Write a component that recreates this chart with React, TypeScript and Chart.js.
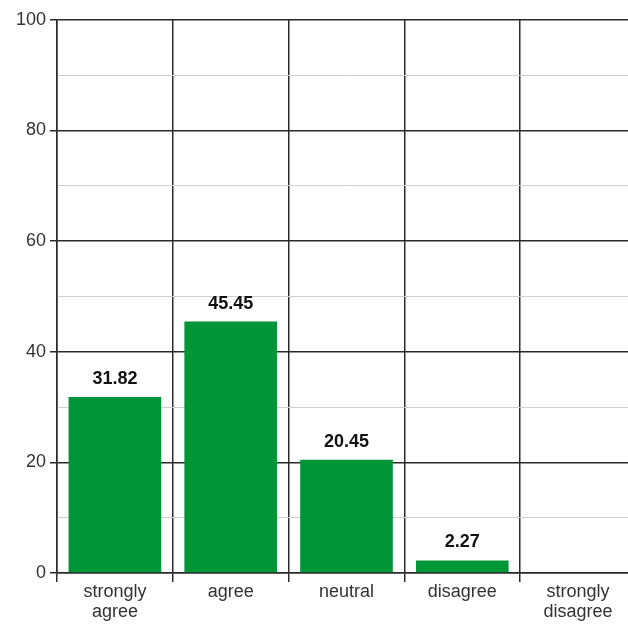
import React, { useEffect, useRef } from "react";
import { Chart, registerables } from "chart.js";

Chart.register(...registerables);

const categories: (string | string[])[] = [
  ["strongly", "agree"],
  "agree",
  "neutral",
  "disagree",
  ["strongly", "disagree"],
];
const percentages: number[] = [31.82, 45.45, 20.45, 2.27, 0];
const yMajorTicks: number[] = [0, 20, 40, 60, 80, 100];

const BAR_GREEN = "#009637";
const DARK_LINE = "#2a2a2a";
const LIGHT_LINE = "#d0d0d0";
const FONT = "'Liberation Sans', Arial, Helvetica, sans-serif";

// Prints each non-zero value in bold just above its bar.
const valueLabels = {
  id: "valueLabels",
  afterDatasetsDraw(chart: any) {
    const ctx = chart.ctx;
    const meta = chart.getDatasetMeta(0);
    ctx.save();
    ctx.font = `bold 18px ${FONT}`;
    ctx.fillStyle = "#111";
    ctx.textAlign = "center";
    ctx.textBaseline = "bottom";
    meta.data.forEach((bar: any, i: number) => {
      const v = percentages[i];
      if (!v) return;
      ctx.fillText(v.toFixed(2), bar.x, bar.y - 9);
    });
    ctx.restore();
  },
};

export default function App() {
  const canvasRef = useRef<HTMLCanvasElement | null>(null);

  useEffect(() => {
    if (!canvasRef.current) return;
    const chart = new Chart(canvasRef.current, {
      type: "bar",
      data: {
        labels: categories,
        datasets: [
          {
            data: percentages,
            backgroundColor: BAR_GREEN,
            borderWidth: 0,
            categoryPercentage: 1,
            barPercentage: 0.8,
          },
        ],
      },
      options: {
        responsive: false,
        animation: false,
        layout: { padding: { top: 8, right: 0, left: 0, bottom: 0 } },
        plugins: {
          legend: { display: false },
          tooltip: { enabled: false },
        },
        scales: {
          x: {
            grid: {
              offset: true,
              color: DARK_LINE,
              lineWidth: 1.5,
              tickLength: 9,
              tickColor: DARK_LINE,
            },
            border: { color: DARK_LINE, width: 1.5 },
            ticks: {
              color: "#333",
              font: { family: FONT, size: 18, lineHeight: 1.1 },
              padding: 0,
              maxRotation: 0,
              autoSkip: false,
            },
            afterFit(scale: any) {
              scale.height = 53;
            },
          },
          y: {
            min: 0,
            max: 100,
            ticks: {
              stepSize: 10,
              color: "#333",
              padding: 4,
              font: { family: FONT, size: 18 },
              callback: (v: any) =>
                yMajorTicks.includes(Number(v)) ? String(v) : "",
            },
            grid: {
              color: (c: any) =>
                yMajorTicks.includes(c.tick?.value) ? DARK_LINE : LIGHT_LINE,
              lineWidth: (c: any) =>
                yMajorTicks.includes(c.tick?.value) ? 1.5 : 1,
              tickLength: 7,
              tickColor: (c: any) =>
                yMajorTicks.includes(c.tick?.value) ? DARK_LINE : "transparent",
            },
            border: { color: DARK_LINE, width: 1.5 },
            afterFit(scale: any) {
              scale.width = 49;
            },
          },
        },
      },
      plugins: [valueLabels],
    });
    return () => chart.destroy();
  }, []);

  return (
    <div
      style={{
        position: "absolute",
        left: 0,
        top: 0,
        width: 628,
        height: 626,
        overflow: "hidden",
        background: "#fff",
      }}
    >
      <canvas
        ref={canvasRef}
        width={628}
        height={621}
        style={{ display: "block", marginLeft: 8, marginTop: 5, width: 628, height: 621 }}
      />
    </div>
  );
}
